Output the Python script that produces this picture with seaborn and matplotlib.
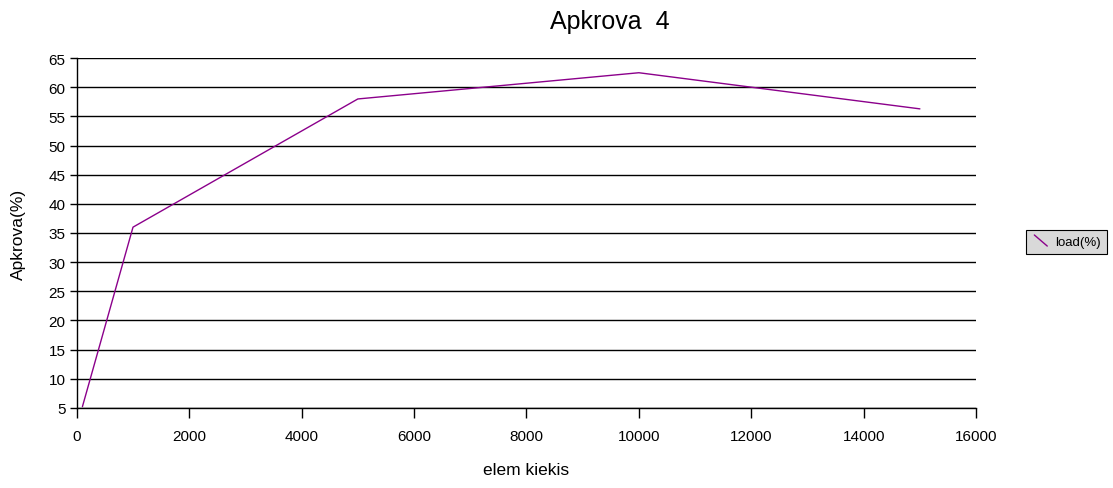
import pandas as pd
import seaborn as sns
import matplotlib.pyplot as plt
from matplotlib.lines import Line2D
from matplotlib.legend_handler import HandlerLine2D

# data
elem_kiekis = [100, 1000, 5000, 10000, 15000]
load_pct = [5.2, 36, 58, 62.5, 56.3]
series_name = 'load(%)'

df = pd.DataFrame({'elem kiekis': elem_kiekis, 'load': load_pct})

sns.set_style('white')
plt.rcParams['font.family'] = ['Liberation Sans', 'DejaVu Sans']
plt.rcParams['text.color'] = 'black'
plt.rcParams['axes.labelcolor'] = 'black'
plt.rcParams['xtick.color'] = 'black'
plt.rcParams['ytick.color'] = 'black'


class DiagonalHandler(HandlerLine2D):
    # legend key drawn as a short diagonal stroke
    def create_artists(self, legend, orig_handle, xdescent, ydescent,
                       width, height, fontsize, trans):
        x0 = -xdescent + width * 0.15
        x1 = -xdescent + width * 0.85
        y0 = -ydescent + height * 1.1
        y1 = -ydescent - height * 0.1
        ln = Line2D([x0, x1], [y0, y1], color=orig_handle.get_color(),
                    lw=orig_handle.get_linewidth())
        ln.set_transform(trans)
        return [ln]


fig = plt.figure(figsize=(11.13, 4.89), dpi=100)
ax = fig.add_axes([0.069, 0.164, 0.808, 0.715])

sns.lineplot(data=df, x='elem kiekis', y='load', color='#8B008B',
             linewidth=1.0, ax=ax, label=series_name, legend=False)

ax.set_xlim(0, 16000)
ax.set_ylim(5, 65)
ax.set_xticks(range(0, 16001, 2000))
ax.set_yticks(range(5, 66, 5))
ax.yaxis.grid(True, color='black', linewidth=1.0)
ax.xaxis.grid(False)
ax.set_axisbelow(True)

for s in ['top', 'right']:
    ax.spines[s].set_visible(False)
for s in ['left', 'bottom']:
    ax.spines[s].set_color('black')
    ax.spines[s].set_linewidth(1.0)

ax.tick_params(axis='x', bottom=True, direction='out', length=7, width=1,
               color='black', labelcolor='black', labelsize=11, pad=8)
ax.tick_params(axis='y', left=True, direction='out', length=5, width=1,
               color='black', labelcolor='black', labelsize=11, pad=3)
ax.set_xlabel('elem kiekis', fontsize=12.5, labelpad=14)
ax.set_ylabel('Apkrova(%)', fontsize=12.5, labelpad=16)

fig.text(0.548, 0.955, 'Apkrova  4', fontsize=18, ha='center', va='center')

h, l = ax.get_legend_handles_labels()
leg = fig.legend(h, l, loc='center', bbox_to_anchor=(0.958, 0.503),
                 frameon=True, fancybox=False, fontsize=9.5,
                 handlelength=1.4, handletextpad=0.4, borderpad=0.45,
                 handler_map={Line2D: DiagonalHandler()})
leg.get_frame().set_facecolor('#d9d9d9')
leg.get_frame().set_edgecolor('black')
leg.get_frame().set_linewidth(0.8)
leg.get_frame().set_alpha(1)

fig.savefig('out.png', dpi=100)
